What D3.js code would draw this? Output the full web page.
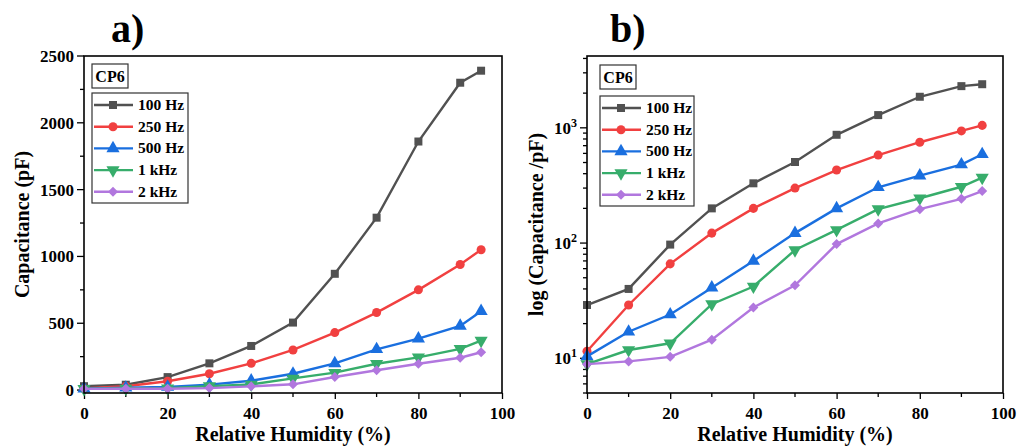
<!DOCTYPE html>
<html>
<head>
<meta charset="utf-8">
<script src="https://cdn.jsdelivr.net/npm/d3@7"></script>
<style>
  body { margin: 0; background: #fff; }
  svg { display: block; font-family: "Liberation Serif", "Times New Roman", serif; font-weight: bold; }
</style>
</head>
<body>
<svg id="chart" width="1032" height="447"></svg>
<script>
// DATA
var humidity = [0, 10, 20, 30, 40, 50, 60, 70, 80, 90, 95];
var seriesNames = ['100 Hz', '250 Hz', '500 Hz', '1 kHz', '2 kHz'];
var cap100 = [29, 40, 97, 200, 330, 505, 870, 1290, 1860, 2300, 2390];
var cap250 = [11.5, 29, 66, 122, 200, 300, 430, 580, 750, 940, 1050];
var cap500 = [10.4, 17, 24, 41, 70, 122, 200, 305, 385, 480, 590];
var cap1k = [8.9, 11.8, 13.5, 29.5, 42, 87, 130, 197, 245, 308, 370];
var cap2k = [8.9, 9.4, 10.3, 14.5, 27.6, 43, 98, 148, 197, 242, 283];
var xTicks = [0, 20, 40, 60, 80, 100];
var linTicks = [0, 500, 1000, 1500, 2000, 2500];
var logTicks = [10, 100, 1000];

var colors = ['#515151', '#F14040', '#1A6FDF', '#37AD6B', '#B177DE'];
// diamond = square turned 45 degrees
var symbols = [d3.symbolSquare, d3.symbolCircle, d3.symbolTriangle, d3.symbolTriangle, d3.symbolSquare];
var symSizes = [64, 64, 75, 75, 50];
var symRot = [0, 0, 0, 180, 45];
var allSeries = [cap100, cap250, cap500, cap1k, cap2k];

var svg = d3.select('#chart');
svg.append('rect').attr('width', 1032).attr('height', 447).attr('fill', '#fff');

//.................................................................//
// ONE PANEL
function drawPanel(opt) {
    var g = svg.append('g');
    var x = d3.scaleLinear().domain([0, 100]).range([opt.left, opt.right]);
    var y = opt.log
        ? d3.scaleLog().domain([5, 4200]).range([opt.bottom, opt.top])
        : d3.scaleLinear().domain([-22, 2500]).range([opt.bottom, opt.top]);

    // minor ticks x
    var xMinor = d3.range(10, 100, 20);
    g.selectAll('line.xminor').data(xMinor).enter().append('line')
        .attr('x1', d => x(d)).attr('x2', d => x(d))
        .attr('y1', opt.bottom).attr('y2', opt.bottom + 4)
        .attr('stroke', '#000').attr('stroke-width', 1.3);
    // major ticks x
    var xa = g.append('g').attr('transform', 'translate(0,' + opt.bottom + ')')
        .call(d3.axisBottom(x).tickValues(xTicks).tickSize(6).tickSizeOuter(0));
    xa.select('.domain').remove();
    xa.selectAll('line').attr('stroke-width', 1.3);
    xa.selectAll('text').attr('y', 26).attr('dy', null)
        .style('font-size', '17px').style('font-family', 'Liberation Serif').style('font-weight', 'bold');

    // y axis
    var yMinor;
    if (opt.log) {
        yMinor = [];
        [1, 10, 100, 1000].forEach(function(b) {
            for (var k = 2; k <= 9; k++) { if (b * k >= 5 && b * k <= 4200) yMinor.push(b * k); }
        });
    } else {
        yMinor = d3.range(250, 2500, 500);
    }
    g.selectAll('line.yminor').data(yMinor).enter().append('line')
        .attr('x1', opt.left - 4).attr('x2', opt.left)
        .attr('y1', d => y(d)).attr('y2', d => y(d))
        .attr('stroke', '#000').attr('stroke-width', 1.3);
    var ticks = opt.log ? logTicks : linTicks;
    g.selectAll('line.ymajor').data(ticks).enter().append('line')
        .attr('x1', opt.left - 7).attr('x2', opt.left)
        .attr('y1', d => y(d)).attr('y2', d => y(d))
        .attr('stroke', '#000').attr('stroke-width', 1.3);
    var yl = g.selectAll('text.ylab').data(ticks).enter().append('text')
        .attr('x', opt.left - 10).attr('y', d => y(d) + 6)
        .attr('text-anchor', 'end').style('font-size', '17px');
    if (opt.log) {
        yl.text('10').append('tspan').attr('dy', -7).style('font-size', '12px')
            .text(d => Math.round(Math.log10(d)));
    } else {
        yl.text(d => d);
    }

    // series
    allSeries.forEach(function(vals, i) {
        var pts = humidity.map((h, j) => [h, vals[j]]);
        var line = d3.line().x(d => x(d[0])).y(d => y(d[1]));
        g.append('path').datum(pts).attr('d', line)
            .attr('fill', 'none').attr('stroke', colors[i]).attr('stroke-width', 2.4);
        g.selectAll('path.m' + i).data(pts).enter().append('path')
            .attr('d', d3.symbol().type(symbols[i]).size(symSizes[i])())
            .attr('transform', d => 'translate(' + x(d[0]) + ',' + y(d[1]) + ') rotate(' + symRot[i] + ')')
            .attr('fill', colors[i]);
    });

    // frame
    g.append('rect').attr('x', opt.left).attr('y', opt.top)
        .attr('width', opt.right - opt.left).attr('height', opt.bottom - opt.top)
        .attr('fill', 'none').attr('stroke', '#000').attr('stroke-width', 1.6);

    // axis titles
    g.append('text').attr('x', (opt.left + opt.right) / 2).attr('y', 441)
        .attr('text-anchor', 'middle').style('font-size', '20px').text('Relative Humidity (%)');
    g.append('text')
        .attr('transform', 'translate(' + opt.ytx + ',' + ((opt.top + opt.bottom) / 2) + ') rotate(-90)')
        .attr('text-anchor', 'middle').style('font-size', '20px').text(opt.ytitle);

    // panel label
    g.append('text').attr('x', opt.labx).attr('y', 42)
        .style('font-size', '40px').text(opt.label);

    // CP6 box
    g.append('rect').attr('x', opt.lx).attr('y', opt.cpY)
        .attr('width', 36).attr('height', 24)
        .attr('fill', '#fff').attr('stroke', '#333').attr('stroke-width', 1.2);
    g.append('text').attr('x', opt.lx + 18).attr('y', opt.cpY + 18)
        .attr('text-anchor', 'middle').style('font-size', '16px').text('CP6');

    // legend
    var lg = g.append('g');
    lg.append('rect').attr('x', opt.lx).attr('y', opt.legY)
        .attr('width', opt.legW).attr('height', 110)
        .attr('fill', '#fff').attr('stroke', '#333').attr('stroke-width', 1.2);
    seriesNames.forEach(function(name, i) {
        var yy = opt.legY + 12 + i * 21.7;
        lg.append('line').attr('x1', opt.lx + 2).attr('x2', opt.lx + 41)
            .attr('y1', yy).attr('y2', yy)
            .attr('stroke', colors[i]).attr('stroke-width', 2.4);
        lg.append('path')
            .attr('d', d3.symbol().type(symbols[i]).size(symSizes[i])())
            .attr('transform', 'translate(' + (opt.lx + 21) + ',' + yy + ') rotate(' + symRot[i] + ')')
            .attr('fill', colors[i]);
        lg.append('text').attr('x', opt.lx + 46).attr('y', yy + 5)
            .style('font-size', '15.5px').text(name);
    });
}

drawPanel({ id: 'a', left: 84, right: 502, top: 56, bottom: 393, log: false,
    ytitle: 'Capacitance (pF)', ytx: 29, label: 'a)', labx: 111,
    lx: 92, cpY: 64, legY: 93, legW: 96 });
drawPanel({ id: 'b', left: 587, right: 1003, top: 56, bottom: 393, log: true,
    ytitle: 'log (Capacitance /pF)', ytx: 543, label: 'b)', labx: 610,
    lx: 600, cpY: 65, legY: 96, legW: 94 });
</script>
</body>
</html>
